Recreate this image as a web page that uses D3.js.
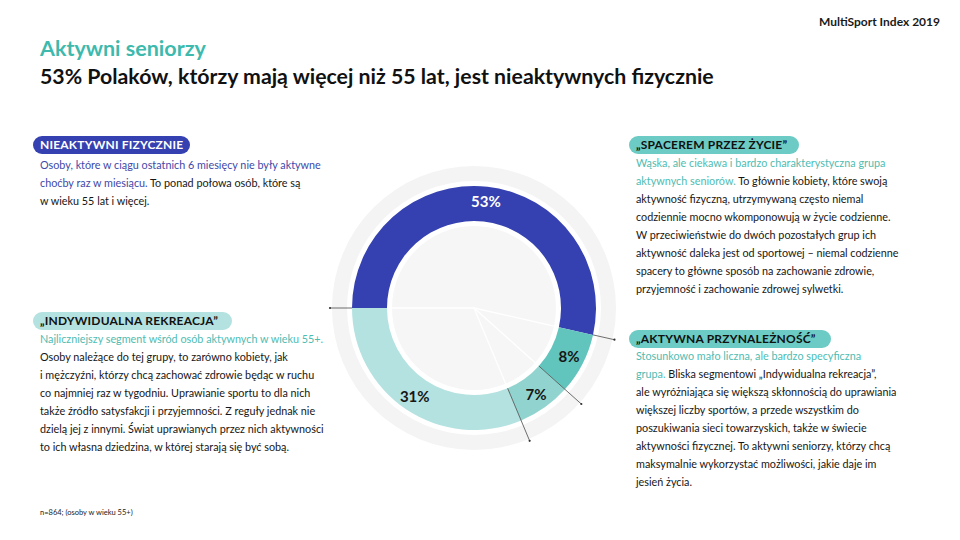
<!DOCTYPE html>
<html><head><meta charset="utf-8">
<script src="https://cdn.jsdelivr.net/npm/d3@7"></script>
<style>
html,body{margin:0;padding:0;background:#fff;}
svg{display:block;font-family:Lato,"Noto Sans",sans-serif;}
</style></head>
<body>
<svg id="chart" width="960" height="540"></svg>
<script>
// ---- data ----
const categories = ["Nieaktywni fizycznie", "Aktywna przynależność", "Spacerem przez życie", "Indywidualna rekreacja"];
const values = [53, 8, 7, 31];
const valueLabels = ["53%", "8%", "7%", "31%"];
const sliceColors = ["#3541b0", "#62c5bd", "#91d4cf", "#b3e2e0"];
const labelColors = ["#ffffff", "#161616", "#161616", "#161616"];

const headerRight = "MultiSport Index 2019";
const title = "Aktywni seniorzy";
const subtitle = "53% Polaków, którzy mają więcej niż 55 lat, jest nieaktywnych fizycznie";
const footnote = "n=864; (osoby w wieku 55+)";

// text blocks: each line is a list of [text, highlighted?]
const blockNieaktywni = {
  tag: "NIEAKTYWNI FIZYCZNIE",
  lines: [
    [["Osoby, które w ciągu ostatnich 6 miesięcy nie były aktywne", 1]],
    [["choćby raz w miesiącu.", 1], [" To ponad połowa osób, które są", 0]],
    [["w wieku 55 lat i więcej.", 0]]
  ]
};
const blockIndywidualna = {
  tag: "„INDYWIDUALNA REKREACJA”",
  lines: [
    [["Najliczniejszy segment wśród osób aktywnych w wieku 55+.", 1]],
    [["Osoby należące do tej grupy, to zarówno kobiety, jak", 0]],
    [["i mężczyźni, którzy chcą zachować zdrowie będąc w ruchu", 0]],
    [["co najmniej raz w tygodniu. Uprawianie sportu to dla nich", 0]],
    [["także źródło satysfakcji i przyjemności. Z reguły jednak nie", 0]],
    [["dzielą jej z innymi. Świat uprawianych przez nich aktywności", 0]],
    [["to ich własna dziedzina, w której starają się być sobą.", 0]]
  ]
};
const blockSpacerem = {
  tag: "„SPACEREM PRZEZ ŻYCIE”",
  lines: [
    [["Wąska, ale ciekawa i bardzo charakterystyczna grupa", 1]],
    [["aktywnych seniorów.", 1], [" To głównie kobiety, które swoją", 0]],
    [["aktywność fizyczną, utrzymywaną często niemal", 0]],
    [["codziennie mocno wkomponowują w życie codzienne.", 0]],
    [["W przeciwieństwie do dwóch pozostałych grup ich", 0]],
    [["aktywność daleka jest od sportowej – niemal codzienne", 0]],
    [["spacery to główne sposób na zachowanie zdrowie,", 0]],
    [["przyjemność i zachowanie zdrowej sylwetki.", 0]]
  ]
};
const blockAktywna = {
  tag: "„AKTYWNA PRZYNALEŻNOŚĆ”",
  lines: [
    [["Stosunkowo mało liczna, ale bardzo specyficzna", 1]],
    [["grupa.", 1], [" Bliska segmentowi „Indywidualna rekreacja”,", 0]],
    [["ale wyróżniająca się większą skłonnością do uprawiania", 0]],
    [["większej liczby sportów, a przede wszystkim do", 0]],
    [["poszukiwania sieci towarzyskich, także w świecie", 0]],
    [["aktywności fizycznej. To aktywni seniorzy, którzy chcą", 0]],
    [["maksymalnie wykorzystać możliwości, jakie daje im", 0]],
    [["jesień życia.", 0]]
  ]
};

// ---- drawing ----
const svg = d3.select("#chart");
svg.append("rect").attr("width", 960).attr("height", 540).attr("fill", "#fff");

svg.append("text").attr("x", 940).attr("y", 26).attr("text-anchor", "end")
  .attr("font-size", 12).attr("font-weight", 700).attr("fill", "#1a1a1a").text(headerRight);
svg.append("text").attr("x", 40).attr("y", 56)
  .attr("font-size", 21.5).attr("font-weight", 700).attr("fill", "#3dbaad").text(title);
svg.append("text").attr("x", 40).attr("y", 84)
  .attr("font-size", 21.3).attr("font-weight", 700).attr("fill", "#111").text(subtitle);
svg.append("text").attr("x", 40).attr("y", 515)
  .attr("font-size", 7.5).attr("fill", "#222").text(footnote);

// donut
const cx = 474, cy = 308;
const rInner = 87, rOuter = 122;
const g = svg.append("g").attr("transform", `translate(${cx},${cy})`);

g.append("path").attr("d", d3.arc()({innerRadius: 127, outerRadius: 142, startAngle: 0, endAngle: 2 * Math.PI}))
  .attr("fill", "#f4f4f5");
g.append("circle").attr("r", 82).attr("fill", "#f6f6f7");

const pie = d3.pie().sort(null).value(d => d)
  .startAngle(-Math.PI / 2).endAngle(1.5 * Math.PI);
const arcs = pie(values);
const arc = d3.arc().innerRadius(rInner).outerRadius(rOuter);

g.selectAll("path.slice").data(arcs).join("path").attr("class", "slice")
  .attr("d", arc).attr("fill", (d, i) => sliceColors[i]);

// boundaries
const bounds = arcs.map(a => a.startAngle);
const pt = (ang, r) => [Math.sin(ang) * r, -Math.cos(ang) * r];
g.selectAll("line.inner").data(bounds).join("line").attr("class", "inner")
  .attr("x1", 0).attr("y1", 0)
  .attr("x2", d => pt(d, 82)[0]).attr("y2", d => pt(d, 82)[1])
  .attr("stroke", "#ffffff").attr("stroke-width", 1.3);
const outerBounds = bounds.map((b, i) => ({a: b, r0: (i === 0 || i === 1) ? rOuter : rInner}));
g.selectAll("line.outer").data(outerBounds).join("line").attr("class", "outer")
  .attr("x1", d => pt(d.a, d.r0)[0]).attr("y1", d => pt(d.a, d.r0)[1])
  .attr("x2", d => pt(d.a, 144)[0]).attr("y2", d => pt(d.a, 144)[1])
  .attr("stroke", "#4a4a4a").attr("stroke-width", 0.8);
g.selectAll("circle.dot").data(outerBounds).join("circle").attr("class", "dot")
  .attr("cx", d => pt(d.a, 144)[0]).attr("cy", d => pt(d.a, 144)[1])
  .attr("r", 1.1).attr("fill", "#333");

const labelArc = d3.arc().innerRadius(107).outerRadius(107);
g.selectAll("text.val").data(arcs).join("text").attr("class", "val")
  .attr("transform", d => `translate(${labelArc.centroid(d)})`)
  .attr("text-anchor", "middle").attr("dy", "0.35em")
  .attr("font-size", 15).attr("font-weight", 700)
  .attr("fill", (d, i) => labelColors[i])
  .text((d, i) => valueLabels[i]);

// text blocks
function drawBlock(block, x, yTag, pillW, pillColor, tagColor, hiColor, firstLineY) {
  const bg = svg.append("g");
  bg.append("rect").attr("x", x - 7).attr("y", yTag - 9).attr("width", pillW).attr("height", 18)
    .attr("rx", 9).attr("fill", pillColor);
  bg.append("text").attr("x", x).attr("y", yTag).attr("dy", "0.36em")
    .attr("font-size", 12).attr("font-weight", 700).attr("fill", tagColor)
    .attr("letter-spacing", 0.2).text(block.tag);
  block.lines.forEach((line, i) => {
    const t = bg.append("text").attr("x", x).attr("y", firstLineY + i * 18)
      .attr("font-size", 10.8).attr("fill", "#161616");
    line.forEach(seg => {
      t.append("tspan").attr("fill", seg[1] ? hiColor : "#161616").text(seg[0]);
    });
  });
}
drawBlock(blockNieaktywni, 40, 145, 157, "#3541b0", "#ffffff", "#3f49a9", 169);
drawBlock(blockIndywidualna, 40, 321, 199, "#b3e2e0", "#111", "#4fbcb2", 343);
drawBlock(blockSpacerem, 636, 145, 170, "#6ccbc4", "#111", "#4fbcb2", 167);
drawBlock(blockAktywna, 636, 339, 202, "#6ccbc4", "#111", "#4fbcb2", 360);
</script>
</body></html>
